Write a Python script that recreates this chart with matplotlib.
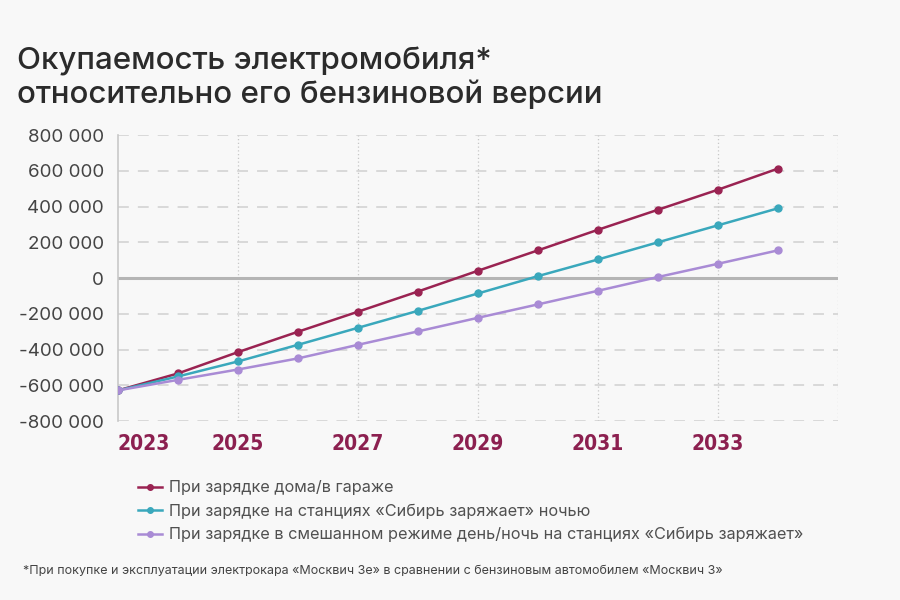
import numpy as np
import matplotlib
matplotlib.use("Agg")
import matplotlib.pyplot as plt

# data
years = [2023, 2024, 2025, 2026, 2027, 2028, 2029, 2030, 2031, 2032, 2033, 2034]
home = [-628000, -533000, -414000, -300000, -188000, -75000, 41000, 155000, 270000, 382000, 494000, 612000]
night = [-628000, -550000, -466000, -373000, -278000, -183000, -86000, 11000, 104000, 200000, 295000, 390000]
mixed = [-628000, -569000, -511000, -449000, -373000, -298000, -222000, -147000, -71000, 6000, 80000, 155000]

labels = ["При зарядке дома/в гараже",
          "При зарядке на станциях «Сибирь заряжает» ночью",
          "При зарядке в смешанном режиме день/ночь на станциях «Сибирь заряжает»"]
colors = ["#9a2352", "#3aa8bc", "#a98bd5"]

year_ticks = [2023, 2025, 2027, 2029, 2031, 2033]
y_ticks = [-800000, -600000, -400000, -200000, 0, 200000, 400000, 600000, 800000]

bg = "#f8f8f8"
plt.rcParams["font.family"] = ["Inter", "DejaVu Sans"]

fig = plt.figure(figsize=(9, 6), dpi=100, facecolor=bg)
ax = fig.add_axes([0.131, 0.298, 0.8, 0.477], facecolor=bg)

for vals, lab, c in zip([home, night, mixed], labels, colors):
    ax.plot(years, vals, color=c, lw=1.8, marker="o", ms=5, label=lab, zorder=3)

ax.set_xlim(2023, 2035)
ax.set_ylim(-800000, 800000)

# grid
for v in y_ticks:
    if v == 0:
        ax.axhline(0, color="#b5b5b5", lw=2.2, zorder=2)
    else:
        ax.axhline(v, color="#d6d6d6", lw=1.3, ls=(0, (6, 5)), zorder=1)
for x in [2025, 2027, 2029, 2031, 2033, 2035]:
    ax.axvline(x, color="#c8c8c8", lw=0.9, ls=(0, (1, 2)), zorder=1)

for s in ["top", "right", "bottom"]:
    ax.spines[s].set_visible(False)
ax.spines["left"].set_color("#c8c8c8")
ax.spines["left"].set_linewidth(1.2)

ax.set_yticks(y_ticks)
ax.set_yticklabels([f"{v:,}".replace(",", " ") for v in y_ticks], fontsize=13.5, color="#444444")
ax.tick_params(axis="y", length=0, pad=10)

ax.set_xticks(year_ticks)
ax.set_xticklabels([str(y) for y in year_ticks], fontsize=15, fontweight="bold",
                   color="#8c2050", family=["DejaVu Sans"], fontstretch="condensed")
ax.tick_params(axis="x", length=0, pad=9)
ax.get_xticklabels()[0].set_horizontalalignment("left")

fig.text(0.019, 0.885, "Окупаемость электромобиля*", fontsize=22.5, fontweight="medium",
         color="#2b2b2b")
fig.text(0.019, 0.828, "относительно его бензиновой версии", fontsize=22.5, fontweight="medium",
         color="#2b2b2b")

leg = ax.legend(loc="upper left", bbox_to_anchor=(0.137, 0.224), bbox_transform=fig.transFigure,
                frameon=False, fontsize=11.7, handlelength=1.5, handletextpad=0.4,
                labelspacing=0.5, markerscale=0.8)
for t in leg.get_texts():
    t.set_color("#505050")

fig.text(0.026, 0.043, "*При покупке и эксплуатации электрокара «Москвич 3е» в сравнении с бензиновым автомобилем «Москвич 3»",
         fontsize=9.0, color="#444444")

fig.savefig("out.png", dpi=100, facecolor=bg)
